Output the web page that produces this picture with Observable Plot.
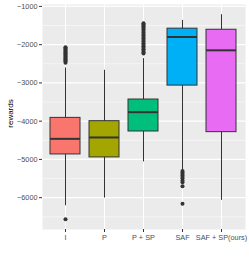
<!DOCTYPE html>
<html><head><meta charset="utf-8">
<script src="https://cdn.jsdelivr.net/npm/d3@7"></script>
<script src="https://cdn.jsdelivr.net/npm/@observablehq/plot@0.6"></script>
<style>body{margin:0;background:#fff}svg{display:block}</style>
</head><body><div id="chart"></div>
<script>
const categories = ["I", "P", "P + SP", "SAF", "SAF + SP(ours)"];
const colors = ["#F8766D", "#A3A500", "#00BF7D", "#00B0F6", "#E76BF3"];
const q1 = [-4870, -4948, -4270, -3070, -4287];
const medians = [-4462, -4426, -3765, -1800, -2148];
const q3 = [-3914, -4000, -3434, -1582, -1610];
const whiskerLow = [-6210, -6010, -5065, -5270, -6070];
const whiskerHigh = [-2610, -2670, -2365, -1365, -1217];
const outliersI = [-6565, -2065, -2090, -2115, -2140, -2165, -2190, -2215, -2240, -2265, -2290, -2315, -2340, -2365, -2390, -2415, -2440, -2470];
const outliersP = [];
const outliersPSP = [-1440, -1470, -1500, -1530, -1560, -1600, -1640, -1680, -1720, -1760, -1800, -1840, -1880, -1920, -1960, -2000, -2040, -2080, -2120, -2160, -2200, -2230];
const outliersSAF = [-5300, -5340, -5380, -5420, -5460, -5500, -5550, -5600, -5700, -6160];
const outliersSAFSP = [];
const yTicks = [-6000, -5000, -4000, -3000, -2000, -1000];
const yMinor = [-6500, -5500, -4500, -3500, -2500, -1500];
const yTitle = "rewards";

const boxes = categories.map((c, i) => ({cat: c, q1: q1[i], med: medians[i], q3: q3[i], lo: whiskerLow[i], hi: whiskerHigh[i], color: colors[i]}));
const outlierLists = [outliersI, outliersP, outliersPSP, outliersSAF, outliersSAFSP];
const outliers = outlierLists.flatMap((arr, i) => arr.map(v => ({cat: categories[i], v})));

const fmt = d => (d < 0 ? "\u2212" : "") + Math.abs(d);

const chart = Plot.plot({
  width: 249, height: 258,
  marginLeft: 42, marginRight: 4, marginTop: 4, marginBottom: 29,
  style: {fontFamily: "'Liberation Sans', Arial, sans-serif", fontSize: "7.3px", color: "#4D4D4D", background: "#fff"},
  x: {type: "band", domain: categories, paddingInner: 0.23, paddingOuter: 0.2175, label: null},
  y: {domain: [-6832, -950], label: null},
  marks: [
    Plot.frame({fill: "#EBEBEB", stroke: null}),
    Plot.ruleY(yMinor, {stroke: "#fff", strokeWidth: 0.5}),
    Plot.ruleY(yTicks, {stroke: "#fff", strokeWidth: 1.1}),
    Plot.ruleX(categories, {x: d => d, stroke: "#fff", strokeWidth: 1.1}),
    Plot.ruleX(boxes, {x: "cat", y1: "lo", y2: "hi", stroke: "#333", strokeWidth: 1}),
    Plot.barY(boxes, {x: "cat", y1: "q1", y2: "q3", fill: "color", stroke: "#333", strokeWidth: 1}),
    Plot.tickY(boxes, {x: "cat", y: "med", stroke: "#333", strokeWidth: 2}),
    Plot.dot(outliers, {x: "cat", y: "v", r: 2, fill: "#333", stroke: null}),
    Plot.axisY(yTicks, {tickSize: 3, tickPadding: 2, tickFormat: fmt, stroke: "#333", fill: "#4D4D4D", label: null}),
    Plot.axisX({tickSize: 3, tickPadding: 2, stroke: "#333", fill: "#4D4D4D", label: null}),
    Plot.text([yTitle], {frameAnchor: "left", dx: -32.5, dy: -3.5, rotate: -90, textAnchor: "middle", lineAnchor: "middle", fill: "#000", fontSize: 8})
  ]
});
document.getElementById("chart").append(chart);
</script></body></html>
